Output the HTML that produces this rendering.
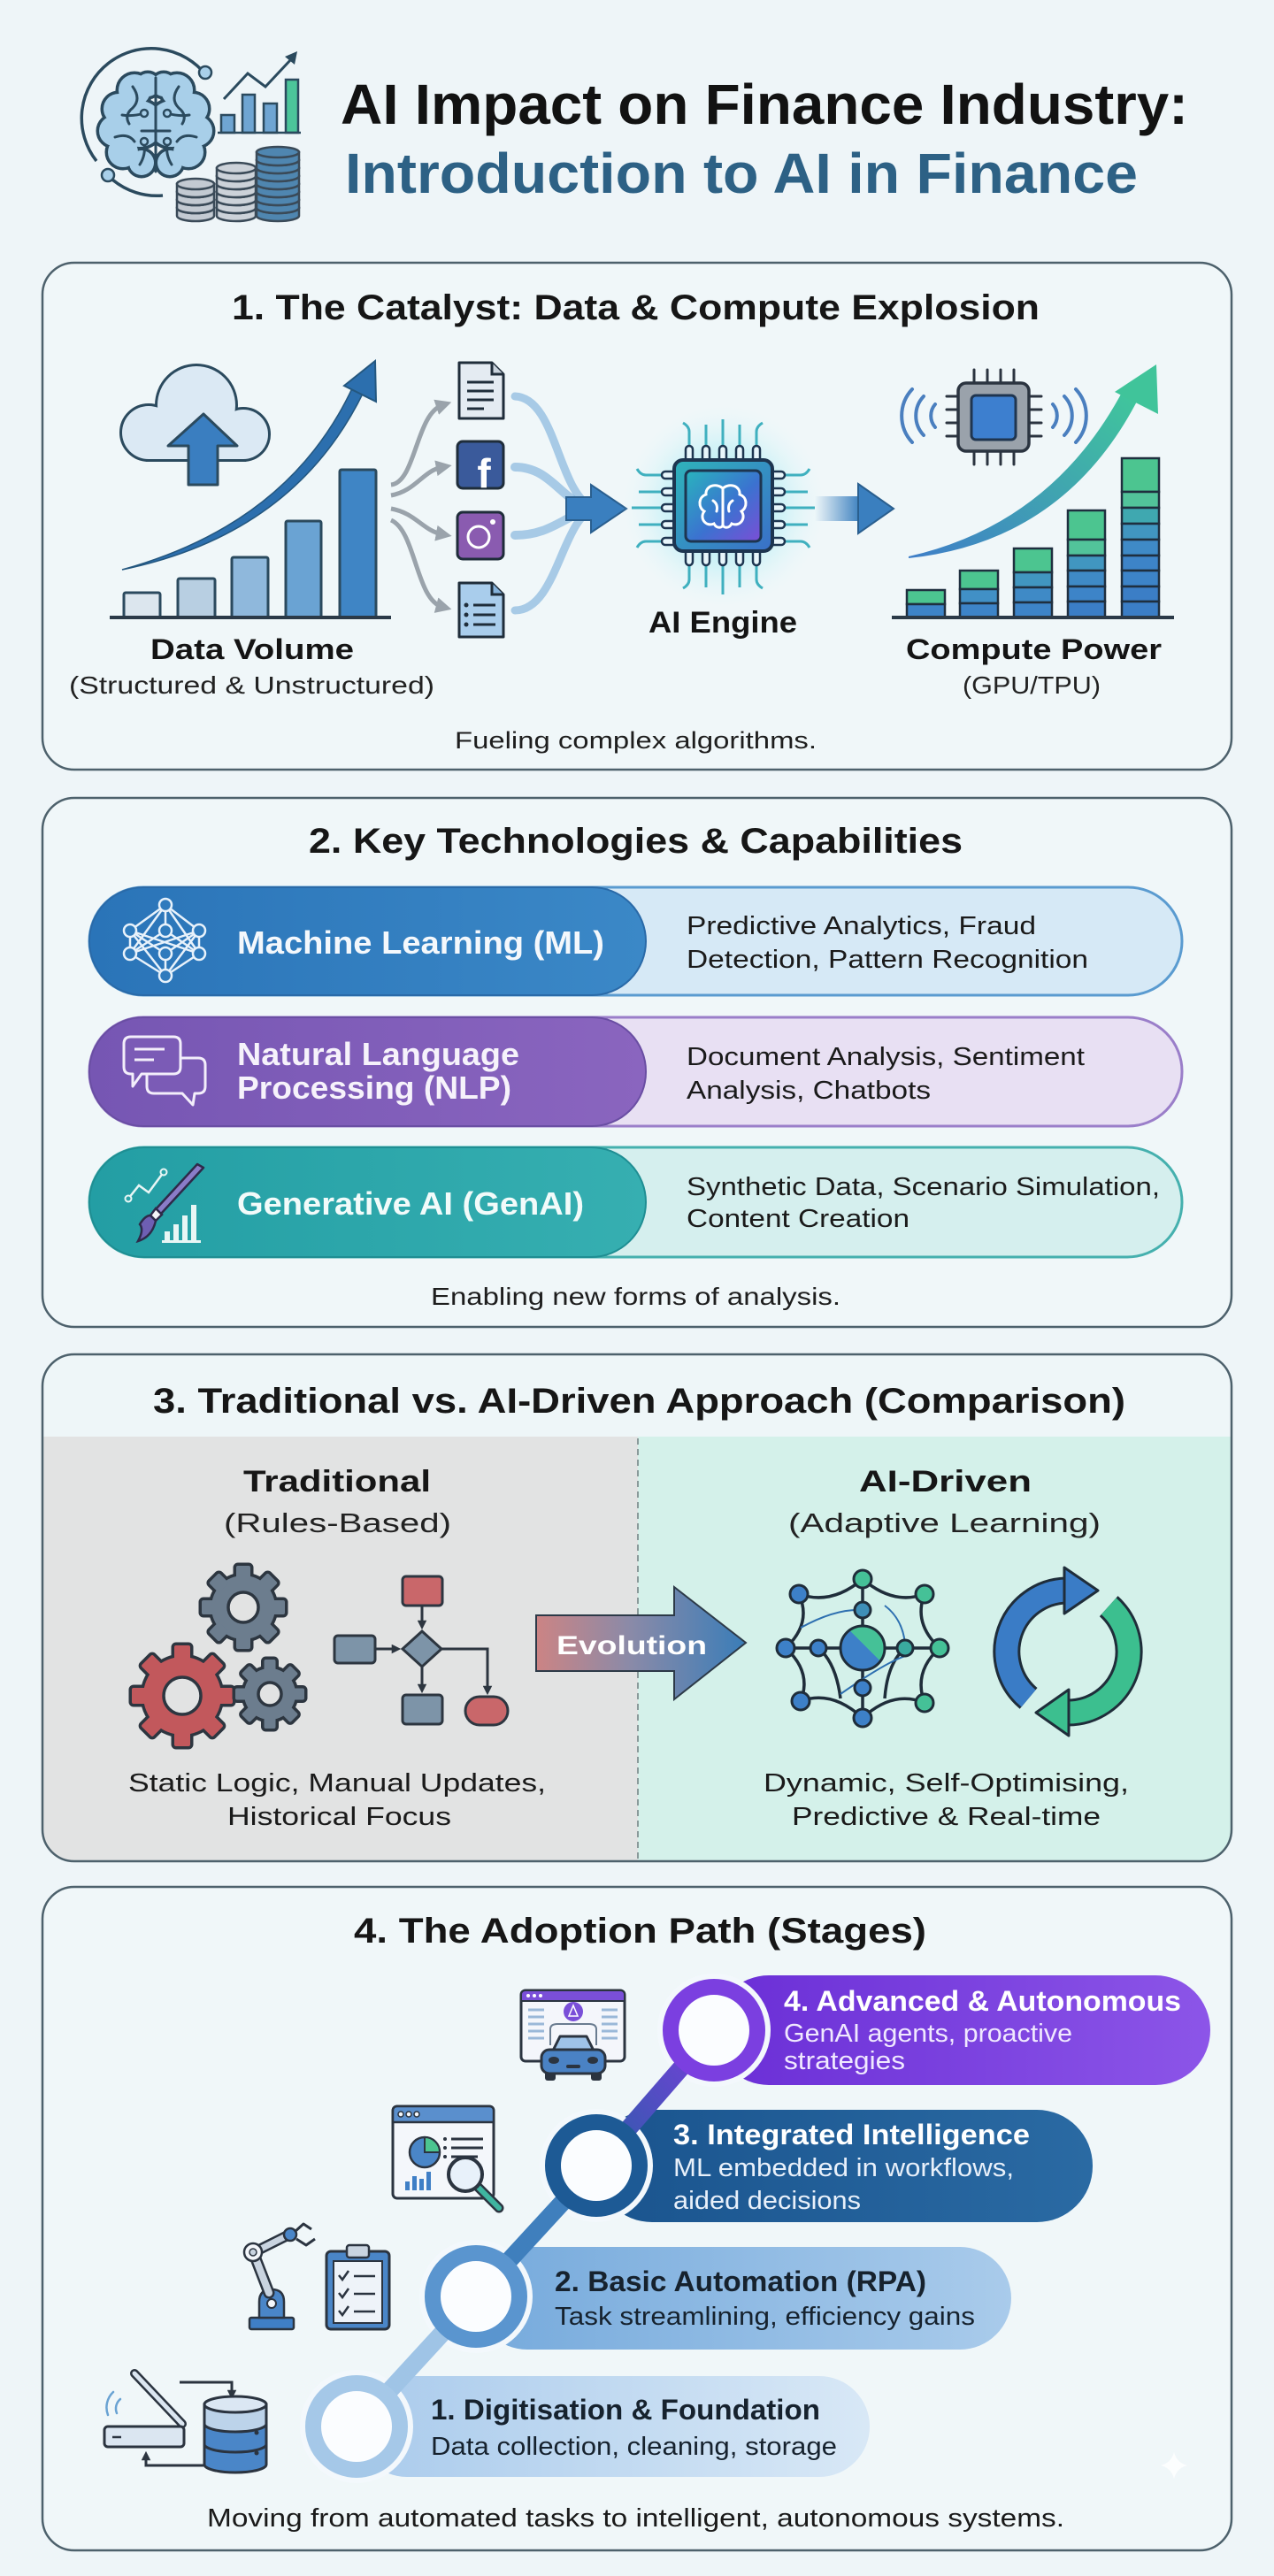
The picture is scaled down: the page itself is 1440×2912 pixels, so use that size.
<!DOCTYPE html>
<html><head><meta charset="utf-8"><style>
html,body{margin:0;padding:0;background:#eef5f8;}
svg{display:block;}
text{font-family:"Liberation Sans",Arial,sans-serif;}
</style></head><body>
<svg width="1440" height="2912" viewBox="0 0 1440 2912" xmlns="http://www.w3.org/2000/svg">
<defs>
<linearGradient id="chipBody" x1="0" y1="0" x2="1" y2="1"><stop offset="0" stop-color="#2fb3bb"/><stop offset="1" stop-color="#3a6fc8"/></linearGradient>
<linearGradient id="chipScreen" x1="0" y1="0" x2="1" y2="1"><stop offset="0" stop-color="#29b4bd"/><stop offset="0.55" stop-color="#3b72d0"/><stop offset="1" stop-color="#7b4ed6"/></linearGradient>
<radialGradient id="glow" cx="0.5" cy="0.5" r="0.5"><stop offset="0" stop-color="#8fe6f0" stop-opacity="0.95"/><stop offset="0.6" stop-color="#bff0f6" stop-opacity="0.6"/><stop offset="1" stop-color="#e6f7fa" stop-opacity="0"/></radialGradient>
<linearGradient id="rArrow" x1="0" y1="0" x2="1" y2="0"><stop offset="0" stop-color="#3a7fbf" stop-opacity="0"/><stop offset="1" stop-color="#3a7fbf"/></linearGradient>
<linearGradient id="cArrow" x1="0" y1="1" x2="1" y2="0"><stop offset="0" stop-color="#3f7ec8"/><stop offset="1" stop-color="#40c89a"/></linearGradient>
<linearGradient id="mlDark" x1="0" y1="0" x2="1" y2="0"><stop offset="0" stop-color="#2a74b8"/><stop offset="1" stop-color="#3b88c7"/></linearGradient>
<linearGradient id="nlpDark" x1="0" y1="0" x2="1" y2="0"><stop offset="0" stop-color="#7656b3"/><stop offset="1" stop-color="#8a65bf"/></linearGradient>
<linearGradient id="genDark" x1="0" y1="0" x2="1" y2="0"><stop offset="0" stop-color="#239ea4"/><stop offset="1" stop-color="#36afb1"/></linearGradient>
<linearGradient id="evo" x1="0" y1="0" x2="1" y2="0"><stop offset="0" stop-color="#cc8484"/><stop offset="0.45" stop-color="#8a8aa8"/><stop offset="1" stop-color="#3a7db8"/></linearGradient>
<linearGradient id="split" x1="0" y1="1" x2="1" y2="0"><stop offset="0" stop-color="#3d80c8"/><stop offset="0.55" stop-color="#3d80c8"/><stop offset="0.55" stop-color="#45c197"/><stop offset="1" stop-color="#45c197"/></linearGradient>
<linearGradient id="p1" x1="0" y1="0" x2="1" y2="0"><stop offset="0" stop-color="#aacbec"/><stop offset="1" stop-color="#d8e8f6"/></linearGradient>
<linearGradient id="p2" x1="0" y1="0" x2="1" y2="0"><stop offset="0" stop-color="#76aadc"/><stop offset="1" stop-color="#a9cbeb"/></linearGradient>
<linearGradient id="p3" x1="0" y1="0" x2="1" y2="0"><stop offset="0" stop-color="#1a548e"/><stop offset="1" stop-color="#2a6aa3"/></linearGradient>
<linearGradient id="p4" x1="0" y1="0" x2="1" y2="0"><stop offset="0" stop-color="#6a2ed6"/><stop offset="1" stop-color="#8c55e8"/></linearGradient>
<linearGradient id="c34" x1="0" y1="1" x2="1" y2="0"><stop offset="0" stop-color="#2a5ea8"/><stop offset="1" stop-color="#7a3ddc"/></linearGradient>
<clipPath id="box3"><rect x="48" y="1531" width="1344" height="573" rx="36"/></clipPath>
<marker id="mg" viewBox="0 0 10 10" refX="4" refY="5" markerWidth="3.6" markerHeight="3.6" orient="auto"><path d="M0,0 L10,5 L0,10 z" fill="#9aa3ab"/></marker>
<marker id="md" viewBox="0 0 10 10" refX="6" refY="5" markerWidth="3.5" markerHeight="3.5" orient="auto"><path d="M0,0 L10,5 L0,10 z" fill="#2d3640"/></marker>
<g id="brainH">
<circle cx="152" cy="102" r="18"/><circle cx="134" cy="123" r="17"/><circle cx="129" cy="148" r="17"/><circle cx="139" cy="172" r="17"/><circle cx="160" cy="184" r="14"/><circle cx="158" cy="140" r="26"/><circle cx="167" cy="96" r="13"/>
<circle cx="200" cy="102" r="18"/><circle cx="218" cy="123" r="17"/><circle cx="223" cy="148" r="17"/><circle cx="213" cy="172" r="17"/><circle cx="192" cy="184" r="14"/><circle cx="194" cy="140" r="26"/><circle cx="185" cy="96" r="13"/>
</g>
<g id="cloud"><circle cx="168" cy="489" r="30"/><circle cx="222" cy="458" r="44"/><circle cx="275" cy="491" r="28"/><rect x="168" y="470" width="107" height="49"/></g>
<g id="gA"><circle cx="275" cy="1817" r="36"/>
<rect x="267" y="1770" width="16" height="16" rx="2"/><rect x="267" y="1770" width="16" height="16" rx="2" transform="rotate(45 275 1817)"/><rect x="267" y="1770" width="16" height="16" rx="2" transform="rotate(90 275 1817)"/><rect x="267" y="1770" width="16" height="16" rx="2" transform="rotate(135 275 1817)"/><rect x="267" y="1770" width="16" height="16" rx="2" transform="rotate(180 275 1817)"/><rect x="267" y="1770" width="16" height="16" rx="2" transform="rotate(225 275 1817)"/><rect x="267" y="1770" width="16" height="16" rx="2" transform="rotate(270 275 1817)"/><rect x="267" y="1770" width="16" height="16" rx="2" transform="rotate(315 275 1817)"/></g>
<g id="gB"><circle cx="206" cy="1917" r="44"/>
<rect x="197" y="1860" width="18" height="18" rx="2"/><rect x="197" y="1860" width="18" height="18" rx="2" transform="rotate(45 206 1917)"/><rect x="197" y="1860" width="18" height="18" rx="2" transform="rotate(90 206 1917)"/><rect x="197" y="1860" width="18" height="18" rx="2" transform="rotate(135 206 1917)"/><rect x="197" y="1860" width="18" height="18" rx="2" transform="rotate(180 206 1917)"/><rect x="197" y="1860" width="18" height="18" rx="2" transform="rotate(225 206 1917)"/><rect x="197" y="1860" width="18" height="18" rx="2" transform="rotate(270 206 1917)"/><rect x="197" y="1860" width="18" height="18" rx="2" transform="rotate(315 206 1917)"/></g>
<g id="gC"><circle cx="305" cy="1915" r="29"/>
<rect x="298.5" y="1876" width="13" height="13" rx="2"/><rect x="298.5" y="1876" width="13" height="13" rx="2" transform="rotate(45 305 1915)"/><rect x="298.5" y="1876" width="13" height="13" rx="2" transform="rotate(90 305 1915)"/><rect x="298.5" y="1876" width="13" height="13" rx="2" transform="rotate(135 305 1915)"/><rect x="298.5" y="1876" width="13" height="13" rx="2" transform="rotate(180 305 1915)"/><rect x="298.5" y="1876" width="13" height="13" rx="2" transform="rotate(225 305 1915)"/><rect x="298.5" y="1876" width="13" height="13" rx="2" transform="rotate(270 305 1915)"/><rect x="298.5" y="1876" width="13" height="13" rx="2" transform="rotate(315 305 1915)"/></g>
</defs>

<rect width="1440" height="2912" fill="#eef5f8"/>

<!-- ===== HEADER ===== -->
<path d="M233,85 A78,78 0 0 0 109,182" fill="none" stroke="#2b4a5e" stroke-width="3.5"/>
<path d="M127,203 A78,78 0 0 0 184,221" fill="none" stroke="#2b4a5e" stroke-width="3.5"/>
<circle cx="232" cy="82" r="7" fill="#a9d0ea" stroke="#2b4a5e" stroke-width="2.5"/>
<circle cx="122" cy="198" r="7" fill="#a9d0ea" stroke="#2b4a5e" stroke-width="2.5"/>
<use href="#brainH" fill="#2b4a5e" stroke="#2b4a5e" stroke-width="7"/>
<use href="#brainH" fill="#a8cfe9"/>
<g fill="none" stroke="#2b4a5e" stroke-width="3" stroke-linecap="round">
<path d="M176,88 V194"/>
<path d="M150,98 Q160,112 150,122 Q140,130 146,140"/><path d="M202,98 Q192,112 202,122 Q212,130 206,140"/>
<path d="M163,128 Q150,132 138,130"/><path d="M189,128 Q202,132 214,130"/>
<path d="M163,162 Q165,175 158,186"/><path d="M189,162 Q187,175 194,186"/>
<path d="M130,155 Q145,150 152,160"/><path d="M222,155 Q207,150 200,160"/>
<path d="M160,148 H192"/>
</g>
<g fill="#a8cfe9" stroke="#2b4a5e" stroke-width="2.5"><circle cx="163" cy="128" r="4"/><circle cx="189" cy="128" r="4"/><circle cx="163" cy="160" r="4"/><circle cx="189" cy="160" r="4"/></g>
<g stroke="#2b4a5e" stroke-width="2.5">
<rect x="250" y="130" width="15" height="20" fill="#6fa5d2"/><rect x="274" y="107" width="14" height="43" fill="#6fa5d2"/><rect x="298" y="117" width="15" height="33" fill="#6fa5d2"/><rect x="323" y="90" width="14" height="60" fill="#4cc59a"/>
<line x1="246" y1="150" x2="340" y2="150"/>
</g>
<path d="M253,112 L280,83 L300,98 L330,66" fill="none" stroke="#2b4a5e" stroke-width="3"/>
<path d="M336,58 L322,64 L333,73 Z" fill="#2b4a5e"/>
<!-- coins -->
<g stroke="#3a4a58" stroke-width="2.5">
<g fill="#c3cad2">
<path d="M200,235 v9 a21,6 0 0 0 42,0 v-9 z"/><ellipse cx="221" cy="235" rx="21" ry="6"/>
<path d="M200,226 v9 a21,6 0 0 0 42,0 v-9 z"/><ellipse cx="221" cy="226" rx="21" ry="6"/>
<path d="M200,217 v9 a21,6 0 0 0 42,0 v-9 z"/><ellipse cx="221" cy="217" rx="21" ry="6"/>
<path d="M200,208 v9 a21,6 0 0 0 42,0 v-9 z"/><ellipse cx="221" cy="208" rx="21" ry="6"/>
</g>
<g fill="#ccd2d9">
<path d="M245,235 v9 a22,6 0 0 0 44,0 v-9 z"/><ellipse cx="267" cy="235" rx="22" ry="6"/>
<path d="M245,226 v9 a22,6 0 0 0 44,0 v-9 z"/><ellipse cx="267" cy="226" rx="22" ry="6"/>
<path d="M245,217 v9 a22,6 0 0 0 44,0 v-9 z"/><ellipse cx="267" cy="217" rx="22" ry="6"/>
<path d="M245,208 v9 a22,6 0 0 0 44,0 v-9 z"/><ellipse cx="267" cy="208" rx="22" ry="6"/>
<path d="M245,199 v9 a22,6 0 0 0 44,0 v-9 z"/><ellipse cx="267" cy="199" rx="22" ry="6"/>
<path d="M245,190 v9 a22,6 0 0 0 44,0 v-9 z"/><ellipse cx="267" cy="190" rx="22" ry="6"/>
</g>
<g fill="#4f86b0">
<path d="M290,235 v9 a24,6 0 0 0 48,0 v-9 z"/><ellipse cx="314" cy="235" rx="24" ry="6"/>
<path d="M290,226 v9 a24,6 0 0 0 48,0 v-9 z"/><ellipse cx="314" cy="226" rx="24" ry="6"/>
<path d="M290,217 v9 a24,6 0 0 0 48,0 v-9 z"/><ellipse cx="314" cy="217" rx="24" ry="6"/>
<path d="M290,208 v9 a24,6 0 0 0 48,0 v-9 z"/><ellipse cx="314" cy="208" rx="24" ry="6"/>
<path d="M290,199 v9 a24,6 0 0 0 48,0 v-9 z"/><ellipse cx="314" cy="199" rx="24" ry="6"/>
<path d="M290,190 v9 a24,6 0 0 0 48,0 v-9 z"/><ellipse cx="314" cy="190" rx="24" ry="6"/>
<path d="M290,181 v9 a24,6 0 0 0 48,0 v-9 z"/><ellipse cx="314" cy="181" rx="24" ry="6"/>
<path d="M290,172 v9 a24,6 0 0 0 48,0 v-9 z"/><ellipse cx="314" cy="172" rx="24" ry="6"/>
</g>
</g>
<text x="385" y="140" font-size="64" font-weight="bold" fill="#121212" textLength="958" lengthAdjust="spacingAndGlyphs">AI Impact on Finance Industry:</text>
<text x="390" y="218" font-size="64" font-weight="bold" fill="#2d6185" textLength="896" lengthAdjust="spacingAndGlyphs">Introduction to AI in Finance</text>

<!-- ===== BOX 1 ===== -->
<rect x="48" y="297" width="1344" height="573" rx="36" fill="#f0f7f9" stroke="#4d616c" stroke-width="2.5"/>
<text x="262" y="361" font-size="40" font-weight="bold" fill="#161616" textLength="913" lengthAdjust="spacingAndGlyphs">1. The Catalyst: Data &amp; Compute Explosion</text>
<!-- cloud -->
<use href="#cloud" fill="#2b4a5e" stroke="#2b4a5e" stroke-width="6"/>
<use href="#cloud" fill="#dbe9f4"/>
<path d="M213,548 V504 H190 L230,468 L268,504 H246 V548 Z" fill="#3a7ec0" stroke="#2b4a5e" stroke-width="3" stroke-linejoin="round"/>
<!-- bars -->
<g stroke="#2b4a5e" stroke-width="3">
<rect x="140" y="670" width="41" height="28" rx="2" fill="#dce6ee"/>
<rect x="201" y="654" width="42" height="44" rx="2" fill="#b8cfe2"/>
<rect x="262" y="630" width="41" height="68" rx="2" fill="#8fb8dc"/>
<rect x="323" y="589" width="40" height="109" rx="2" fill="#6aa3d3"/>
<rect x="384" y="531" width="41" height="167" rx="2" fill="#3f85c5"/>
</g>
<line x1="124" y1="698" x2="442" y2="698" stroke="#2b3a48" stroke-width="4"/>
<path d="M138,644 Q333,604 411,443 L399,437 Q327,592 138,644 Z" fill="#2c6fae" stroke="#24577f" stroke-width="1.5"/>
<path d="M424,408 L425,454 L389,436 Z" fill="#2c6fae" stroke="#24577f" stroke-width="2"/>
<!-- gray arrows -->
<g fill="none" stroke="#9aa3ab" stroke-width="5" marker-end="url(#mg)">
<path d="M442,548 C470,545 470,468 500,458"/>
<path d="M442,560 C470,555 478,532 500,528"/>
<path d="M442,575 C470,580 478,600 500,604"/>
<path d="M442,588 C470,600 470,678 500,686"/>
</g>
<!-- source icons -->
<g stroke="#1f2d3a" stroke-width="3">
<path d="M519,410 H556 L569,423 V473 H519 Z" fill="#e4ebf2" stroke-linejoin="round"/>
<path d="M556,410 V423 H569" fill="#c9d3dd"/>
<line x1="528" y1="432" x2="558" y2="432"/><line x1="528" y1="442" x2="558" y2="442"/><line x1="528" y1="452" x2="558" y2="452"/><line x1="528" y1="462" x2="547" y2="462"/>
<rect x="517" y="499" width="52" height="53" rx="6" fill="#3a5a9b"/>
<rect x="517" y="579" width="52" height="53" rx="6" fill="#8a5bb0"/>
<path d="M519,659 H556 L569,672 V720 H519 Z" fill="#a9cdec" stroke-linejoin="round"/>
<path d="M556,659 V672 H569" fill="#86b3dc"/>
<line x1="535" y1="684" x2="560" y2="684"/><line x1="535" y1="695" x2="560" y2="695"/><line x1="535" y1="706" x2="560" y2="706"/>
</g>
<g fill="#1f2d3a"><circle cx="527" cy="684" r="2.5"/><circle cx="527" cy="695" r="2.5"/><circle cx="527" cy="706" r="2.5"/></g>
<text x="547" y="551" font-size="46" font-weight="bold" fill="#ffffff" text-anchor="middle">f</text>
<circle cx="541" cy="607" r="12" fill="none" stroke="#ffffff" stroke-width="3"/>
<circle cx="557" cy="590" r="3" fill="#ffffff"/>
<!-- flow curves -->
<g fill="none" stroke="#7fb2dc" stroke-opacity="0.65" stroke-linecap="round">
<path d="M582,448 C630,450 630,560 672,575" stroke-width="9"/>
<path d="M582,528 C625,528 635,570 672,575" stroke-width="10"/>
<path d="M582,605 C625,605 640,580 672,575" stroke-width="10"/>
<path d="M582,690 C630,690 635,585 672,575" stroke-width="9"/>
</g>
<path d="M640,562 H668 V548 L708,575 L668,602 V588 H640 Z" fill="#3a7fbf" stroke="#2a5f8f" stroke-width="2"/>
<!-- AI chip -->
<circle cx="818" cy="572" r="115" fill="url(#glow)"/>
<g fill="none" stroke="#3fb0bf" stroke-width="3">
<path d="M779,505 V488 Q779,482 772,478"/><path d="M798,505 V480"/><path d="M817,505 V474"/><path d="M836,505 V480"/><path d="M855,505 V488 Q855,482 862,478"/>
<path d="M779,638 V655 Q779,661 772,665"/><path d="M798,638 V664"/><path d="M817,638 V672"/><path d="M836,638 V664"/><path d="M855,638 V655 Q855,661 862,665"/>
<path d="M750,537 H730 Q724,537 720,530"/><path d="M750,556 H722"/><path d="M750,574 H714"/><path d="M750,593 H722"/><path d="M750,612 H730 Q724,612 720,619"/>
<path d="M885,537 H905 Q911,537 915,530"/><path d="M885,556 H913"/><path d="M885,574 H921"/><path d="M885,593 H913"/><path d="M885,612 H905 Q911,612 915,619"/>
</g>
<g fill="#e8f6fb" stroke="#1d3550" stroke-width="2.5">
<rect x="775" y="504" width="8" height="18" rx="4"/><rect x="794" y="504" width="8" height="18" rx="4"/><rect x="813" y="504" width="8" height="18" rx="4"/><rect x="832" y="504" width="8" height="18" rx="4"/><rect x="851" y="504" width="8" height="18" rx="4"/>
<rect x="775" y="621" width="8" height="18" rx="4"/><rect x="794" y="621" width="8" height="18" rx="4"/><rect x="813" y="621" width="8" height="18" rx="4"/><rect x="832" y="621" width="8" height="18" rx="4"/><rect x="851" y="621" width="8" height="18" rx="4"/>
<rect x="748" y="533" width="18" height="8" rx="4"/><rect x="748" y="552" width="18" height="8" rx="4"/><rect x="748" y="570" width="18" height="8" rx="4"/><rect x="748" y="589" width="18" height="8" rx="4"/><rect x="748" y="608" width="18" height="8" rx="4"/>
<rect x="869" y="533" width="18" height="8" rx="4"/><rect x="869" y="552" width="18" height="8" rx="4"/><rect x="869" y="570" width="18" height="8" rx="4"/><rect x="869" y="589" width="18" height="8" rx="4"/><rect x="869" y="608" width="18" height="8" rx="4"/>
</g>
<rect x="762" y="520" width="111" height="103" rx="10" fill="url(#chipBody)" stroke="#1d3550" stroke-width="4"/>
<rect x="775" y="532" width="85" height="80" rx="6" fill="url(#chipScreen)" stroke="#1d3550" stroke-width="3"/>
<g fill="none" stroke="#ffffff" stroke-width="3" stroke-linecap="round">
<path d="M817,552 C808,545 797,550 798,559 C789,562 789,574 796,578 C790,586 798,596 807,592 C810,598 817,597 817,593 Z"/>
<path d="M817,552 C826,545 837,550 836,559 C845,562 845,574 838,578 C844,586 836,596 827,592 C824,598 817,597 817,593 Z"/>
<path d="M806,566 Q812,570 810,578"/><path d="M828,566 Q822,570 824,578"/>
</g>
<text x="733" y="715" font-size="34" font-weight="bold" fill="#141414" textLength="168" lengthAdjust="spacingAndGlyphs">AI Engine</text>
<!-- right arrow -->
<rect x="921" y="561" width="52" height="28" fill="url(#rArrow)"/>
<path d="M970,547 L1010,575 L970,603 Z" fill="#3a7fbf" stroke="#2a5f8f" stroke-width="2"/>
<!-- compute chip -->
<g stroke="#2b3440" stroke-width="3" stroke-linecap="round">
<line x1="1101" y1="418" x2="1101" y2="433"/><line x1="1116" y1="418" x2="1116" y2="433"/><line x1="1131" y1="418" x2="1131" y2="433"/><line x1="1146" y1="418" x2="1146" y2="433"/>
<line x1="1101" y1="510" x2="1101" y2="525"/><line x1="1116" y1="510" x2="1116" y2="525"/><line x1="1131" y1="510" x2="1131" y2="525"/><line x1="1146" y1="510" x2="1146" y2="525"/>
<line x1="1070" y1="448" x2="1083" y2="448"/><line x1="1070" y1="463" x2="1083" y2="463"/><line x1="1070" y1="478" x2="1083" y2="478"/><line x1="1070" y1="493" x2="1083" y2="493"/>
<line x1="1163" y1="448" x2="1177" y2="448"/><line x1="1163" y1="463" x2="1177" y2="463"/><line x1="1163" y1="478" x2="1177" y2="478"/><line x1="1163" y1="493" x2="1177" y2="493"/>
</g>
<rect x="1083" y="433" width="80" height="77" rx="9" fill="#9aa2ab" stroke="#2b3440" stroke-width="3.5"/>
<rect x="1098" y="447" width="50" height="50" rx="5" fill="#3d7fcf" stroke="#1f3550" stroke-width="3"/>
<g fill="none" stroke="#4a7fbf" stroke-width="4" stroke-linecap="round">
<path d="M1057,457 A20,20 0 0 0 1057,483"/><path d="M1044,448 A32,32 0 0 0 1044,492"/><path d="M1031,440 A44,44 0 0 0 1031,500"/>
<path d="M1190,457 A20,20 0 0 1 1190,483"/><path d="M1203,448 A32,32 0 0 1 1203,492"/><path d="M1216,440 A44,44 0 0 1 1216,500"/>
</g>
<path d="M1027,631 Q1205,612 1288,448 L1270,440 Q1190,592 1027,629 Z" fill="url(#cArrow)"/>
<path d="M1307,412 L1260,443 L1309,468 Z" fill="#40c49a"/>
<!-- stacked bars -->
<g stroke="#1f2f3f" stroke-width="2.5">
<rect x="1025" y="667" width="43" height="16" fill="#4cc590"/><rect x="1025" y="683" width="43" height="15" fill="#3d84c8"/>
<rect x="1085" y="645" width="43" height="21" fill="#4cc590"/><rect x="1085" y="666" width="43" height="16" fill="#4190c6"/><rect x="1085" y="682" width="43" height="16" fill="#3d84c8"/>
<rect x="1146" y="620" width="43" height="27" fill="#4cc590"/><rect x="1146" y="647" width="43" height="17" fill="#4196c0"/><rect x="1146" y="664" width="43" height="17" fill="#3f8ac6"/><rect x="1146" y="681" width="43" height="17" fill="#3d84c8"/>
<rect x="1207" y="577" width="42" height="33" fill="#4cc590"/><rect x="1207" y="610" width="42" height="18" fill="#52c39a"/><rect x="1207" y="628" width="42" height="17" fill="#4196c0"/><rect x="1207" y="645" width="42" height="18" fill="#3f8ac6"/><rect x="1207" y="663" width="42" height="17" fill="#3d84c8"/><rect x="1207" y="680" width="42" height="18" fill="#3b7ec6"/>
<rect x="1268" y="518" width="42" height="38" fill="#4cc590"/><rect x="1268" y="556" width="42" height="18" fill="#52c39a"/><rect x="1268" y="574" width="42" height="18" fill="#3fa8b0"/><rect x="1268" y="592" width="42" height="18" fill="#4196c0"/><rect x="1268" y="610" width="42" height="18" fill="#3f8ac6"/><rect x="1268" y="628" width="42" height="17" fill="#3d84c8"/><rect x="1268" y="645" width="42" height="18" fill="#3d84c8"/><rect x="1268" y="663" width="42" height="17" fill="#3b7ec6"/><rect x="1268" y="680" width="42" height="18" fill="#3b7ec6"/>
</g>
<line x1="1008" y1="698" x2="1327" y2="698" stroke="#2b3a48" stroke-width="4"/>
<text x="170" y="745" font-size="32" font-weight="bold" fill="#141414" textLength="230" lengthAdjust="spacingAndGlyphs">Data Volume</text>
<text x="78" y="784" font-size="28" fill="#222" textLength="413" lengthAdjust="spacingAndGlyphs">(Structured &amp; Unstructured)</text>
<text x="1024" y="745" font-size="32" font-weight="bold" fill="#141414" textLength="289" lengthAdjust="spacingAndGlyphs">Compute Power</text>
<text x="1088" y="784" font-size="28" fill="#222" textLength="156" lengthAdjust="spacingAndGlyphs">(GPU/TPU)</text>
<text x="514" y="846" font-size="27" fill="#1e1e1e" textLength="409" lengthAdjust="spacingAndGlyphs">Fueling complex algorithms.</text>

<!-- ===== BOX 2 ===== -->
<rect x="48" y="902" width="1344" height="598" rx="36" fill="#f0f7f9" stroke="#4d616c" stroke-width="2.5"/>
<text x="349" y="964" font-size="40" font-weight="bold" fill="#161616" textLength="739" lengthAdjust="spacingAndGlyphs">2. Key Technologies &amp; Capabilities</text>
<rect x="101" y="1003" width="1235" height="122" rx="61" fill="#d6e9f6" stroke="#5a9bd0" stroke-width="3"/>
<rect x="101" y="1003" width="629" height="122" rx="61" fill="url(#mlDark)" stroke="#2a6aa8" stroke-width="2"/>
<rect x="101" y="1150" width="1235" height="123" rx="61" fill="#e8e0f3" stroke="#9a7ec9" stroke-width="3"/>
<rect x="101" y="1150" width="629" height="123" rx="61" fill="url(#nlpDark)" stroke="#6a4ea3" stroke-width="2"/>
<rect x="101" y="1297" width="1235" height="124" rx="62" fill="#d5efee" stroke="#45b0ae" stroke-width="3"/>
<rect x="101" y="1297" width="629" height="124" rx="62" fill="url(#genDark)" stroke="#1f8e93" stroke-width="2"/>
<!-- ML icon -->
<g stroke="#e8f2fb" stroke-width="2.5" fill="none">
<path d="M187,1023 L147,1052 M187,1023 L187,1052 M187,1023 L225,1052 M147,1052 L147,1078 M147,1052 L187,1078 M147,1052 L225,1078 M187,1052 L147,1078 M187,1052 L225,1078 M225,1052 L147,1078 M225,1052 L187,1078 M225,1052 L225,1078 M147,1078 L187,1103 M187,1078 L187,1103 M225,1078 L187,1103 M187,1023 L147,1078 M187,1023 L225,1078 M147,1052 L187,1103 M225,1052 L187,1103"/>
</g>
<g fill="#2f7bbd" stroke="#e8f2fb" stroke-width="2.5">
<circle cx="187" cy="1023" r="7"/><circle cx="147" cy="1052" r="7"/><circle cx="187" cy="1052" r="7"/><circle cx="225" cy="1052" r="7"/><circle cx="147" cy="1078" r="7"/><circle cx="187" cy="1078" r="7"/><circle cx="225" cy="1078" r="7"/><circle cx="187" cy="1103" r="7"/>
</g>
<!-- NLP icon -->
<g stroke="#f3eefb" stroke-width="3" fill="#7b5bb6" stroke-linejoin="round">
<path d="M174,1196 H224 Q232,1196 232,1204 V1228 Q232,1236 224,1236 H220 L218,1249 L206,1236 H174 Q166,1236 166,1228 V1204 Q166,1196 174,1196 Z"/>
<path d="M148,1172 H196 Q204,1172 204,1180 V1206 Q204,1214 196,1214 H160 L150,1228 L150,1214 H148 Q140,1214 140,1206 V1180 Q140,1172 148,1172 Z"/>
<line x1="152" y1="1186" x2="186" y2="1186"/><line x1="152" y1="1198" x2="174" y2="1198"/>
</g>
<!-- GenAI icon -->
<g fill="none" stroke="#e8f6f5" stroke-width="2.5">
<path d="M145,1355 L157,1340 L168,1348 L185,1325"/>
</g>
<g fill="#2aa3a8" stroke="#e8f6f5" stroke-width="2"><circle cx="145" cy="1355" r="3.5"/><circle cx="185" cy="1325" r="3.5"/></g>
<g fill="#e8f6f5"><rect x="186" y="1392" width="6" height="12"/><rect x="196" y="1384" width="6" height="20"/><rect x="206" y="1374" width="6" height="30"/><rect x="216" y="1362" width="6" height="42"/><rect x="183" y="1402" width="44" height="3"/></g>
<path d="M223,1316 L230,1320 L182,1372 L176,1367 Z" fill="#8a7cc8" stroke="#2e2a4a" stroke-width="2.5" stroke-linejoin="round"/>
<path d="M176,1366 L183,1373 L176,1380 L170,1374 Z" fill="#f4f4f8" stroke="#2e2a4a" stroke-width="2.5"/>
<path d="M170,1374 L176,1380 Q172,1398 156,1403 Q163,1390 158,1384 Q164,1374 170,1374 Z" fill="#6e5fb3" stroke="#2e2a4a" stroke-width="2.5"/>
<text x="268" y="1078" font-size="36" font-weight="bold" fill="#f4f8fc" textLength="415" lengthAdjust="spacingAndGlyphs">Machine Learning (ML)</text>
<text x="268" y="1204" font-size="36" font-weight="bold" fill="#f6f2fb" textLength="319" lengthAdjust="spacingAndGlyphs">Natural Language</text>
<text x="268" y="1242" font-size="36" font-weight="bold" fill="#f6f2fb" textLength="310" lengthAdjust="spacingAndGlyphs">Processing (NLP)</text>
<text x="268" y="1373" font-size="36" font-weight="bold" fill="#f2fbfa" textLength="392" lengthAdjust="spacingAndGlyphs">Generative AI (GenAI)</text>
<g font-size="29" fill="#1a1a1a">
<text x="776" y="1056" textLength="395" lengthAdjust="spacingAndGlyphs">Predictive Analytics, Fraud</text>
<text x="776" y="1094" textLength="454" lengthAdjust="spacingAndGlyphs">Detection, Pattern Recognition</text>
<text x="776" y="1204" textLength="450" lengthAdjust="spacingAndGlyphs">Document Analysis, Sentiment</text>
<text x="776" y="1242" textLength="276" lengthAdjust="spacingAndGlyphs">Analysis, Chatbots</text>
<text x="776" y="1351" textLength="535" lengthAdjust="spacingAndGlyphs">Synthetic Data, Scenario Simulation,</text>
<text x="776" y="1387" textLength="252" lengthAdjust="spacingAndGlyphs">Content Creation</text>
</g>
<text x="487" y="1475" font-size="28" fill="#1e1e1e" textLength="463" lengthAdjust="spacingAndGlyphs">Enabling new forms of analysis.</text>

<!-- ===== BOX 3 ===== -->
<rect x="48" y="1531" width="1344" height="573" rx="36" fill="#eef6f8"/>
<g clip-path="url(#box3)">
<rect x="48" y="1624" width="673" height="480" fill="#e2e3e3"/>
<rect x="721" y="1624" width="671" height="480" fill="#d4f1ea"/>
</g>
<line x1="721" y1="1626" x2="721" y2="2102" stroke="#8a9a9a" stroke-width="2" stroke-dasharray="7,5"/>
<rect x="48" y="1531" width="1344" height="573" rx="36" fill="none" stroke="#4d616c" stroke-width="2.5"/>
<text x="173" y="1597" font-size="40" font-weight="bold" fill="#161616" textLength="1099" lengthAdjust="spacingAndGlyphs">3. Traditional vs. AI-Driven Approach (Comparison)</text>
<text x="275" y="1686" font-size="34" font-weight="bold" fill="#161616" textLength="212" lengthAdjust="spacingAndGlyphs">Traditional</text>
<text x="253" y="1732" font-size="31" fill="#222" textLength="257" lengthAdjust="spacingAndGlyphs">(Rules-Based)</text>
<text x="971" y="1686" font-size="34" font-weight="bold" fill="#161616" textLength="195" lengthAdjust="spacingAndGlyphs">AI-Driven</text>
<text x="891" y="1732" font-size="31" fill="#222" textLength="353" lengthAdjust="spacingAndGlyphs">(Adaptive Learning)</text>
<!-- gears -->
<use href="#gA" fill="#2d3640" stroke="#2d3640" stroke-width="7"/>
<use href="#gA" fill="#6c7d8e"/>
<circle cx="275" cy="1817" r="17" fill="#e2e3e3" stroke="#2d3640" stroke-width="3.5"/>
<use href="#gB" fill="#2d3640" stroke="#2d3640" stroke-width="7"/>
<use href="#gB" fill="#c2585c"/>
<circle cx="206" cy="1917" r="21" fill="#e2e3e3" stroke="#2d3640" stroke-width="3.5"/>
<use href="#gC" fill="#2d3640" stroke="#2d3640" stroke-width="7"/>
<use href="#gC" fill="#6c7d8e"/>
<circle cx="305" cy="1915" r="13" fill="#e2e3e3" stroke="#2d3640" stroke-width="3.5"/>
<!-- flowchart -->
<g stroke="#2d3640" stroke-width="3" fill="none">
<line x1="477" y1="1815" x2="477" y2="1838" marker-end="url(#md)"/>
<line x1="424" y1="1864" x2="449" y2="1864" marker-end="url(#md)"/>
<line x1="477" y1="1882" x2="477" y2="1910" marker-end="url(#md)"/>
<path d="M499,1864 H551 V1912" marker-end="url(#md)"/>
</g>
<g stroke="#2d3640" stroke-width="3">
<rect x="455" y="1782" width="45" height="33" rx="4" fill="#c9676a"/>
<rect x="378" y="1849" width="46" height="31" rx="4" fill="#7d94a8"/>
<path d="M477,1844 L499,1864 L477,1884 L455,1864 Z" fill="#7d94a8"/>
<rect x="455" y="1916" width="45" height="33" rx="4" fill="#7d94a8"/>
<rect x="526" y="1918" width="48" height="32" rx="16" fill="#c9676a"/>
</g>
<!-- evolution arrow -->
<path d="M606,1826 H762 V1794 L843,1857 L762,1921 V1889 H606 Z" fill="url(#evo)" stroke="#2d3a48" stroke-width="2"/>
<text x="629" y="1870" font-size="30" font-weight="bold" fill="#ffffff" textLength="170" lengthAdjust="spacingAndGlyphs">Evolution</text>
<!-- network -->
<g fill="none" stroke="#1f2d3a" stroke-width="3.5">
<path d="M903,1802 Q940,1815 975,1785"/><path d="M975,1785 Q1010,1815 1045,1802"/>
<path d="M903,1802 Q918,1835 888,1863"/><path d="M1045,1802 Q1032,1835 1062,1863"/>
<path d="M888,1863 Q918,1890 905,1923"/><path d="M1062,1863 Q1032,1890 1045,1925"/>
<path d="M905,1923 Q940,1910 975,1942"/><path d="M975,1942 Q1010,1910 1045,1925"/>
<path d="M975,1785 V1942"/><path d="M888,1863 H1062"/>
<path d="M925,1863 Q945,1880 950,1920"/><path d="M1023,1863 Q1003,1880 1000,1920"/>
</g>
<g fill="none" stroke="#2d6fb0" stroke-width="2">
<path d="M905,1840 Q945,1818 975,1820"/><path d="M1000,1815 Q1020,1830 1023,1858"/><path d="M950,1915 Q1000,1880 1023,1872"/>
</g>
<g stroke="#1f2d3a" stroke-width="3">
<circle cx="903" cy="1802" r="10" fill="#3d80c8"/><circle cx="975" cy="1785" r="10" fill="#45c197"/><circle cx="1045" cy="1802" r="10" fill="#45c197"/>
<circle cx="975" cy="1820" r="9" fill="#3e8fb8"/><circle cx="888" cy="1863" r="10" fill="#3d80c8"/><circle cx="925" cy="1863" r="9" fill="#3d80c8"/>
<circle cx="1023" cy="1863" r="9" fill="#3aaa9f"/><circle cx="1062" cy="1863" r="10" fill="#45c197"/><circle cx="975" cy="1908" r="9" fill="#3d80c8"/>
<circle cx="905" cy="1923" r="10" fill="#3d80c8"/><circle cx="975" cy="1942" r="10" fill="#3d80c8"/><circle cx="1045" cy="1925" r="10" fill="#45c197"/>
<circle cx="975" cy="1863" r="25" fill="url(#split)"/>
</g>
<!-- cycle -->
<path d="M1162.6,1919.9 A69,69 0 0 1 1204.6,1798" fill="none" stroke="#1f2d3a" stroke-width="31"/>
<path d="M1162.6,1919.9 A69,69 0 0 1 1206,1798" fill="none" stroke="#3a7cc6" stroke-width="25"/>
<path d="M1203,1772 L1241,1798 L1203,1824 Z" fill="#3a7cc6" stroke="#1f2d3a" stroke-width="3" stroke-linejoin="round"/>
<path d="M1253.2,1815.7 A69,69 0 0 1 1207,1936" fill="none" stroke="#1f2d3a" stroke-width="31"/>
<path d="M1253.2,1815.7 A69,69 0 0 1 1205.5,1936" fill="none" stroke="#3cbf8f" stroke-width="25"/>
<path d="M1208,1910 L1171,1936 L1208,1962 Z" fill="#3cbf8f" stroke="#1f2d3a" stroke-width="3" stroke-linejoin="round"/>
<g font-size="29" fill="#1a1a1a">
<text x="145" y="2025" textLength="472" lengthAdjust="spacingAndGlyphs">Static Logic, Manual Updates,</text>
<text x="257" y="2063" textLength="253" lengthAdjust="spacingAndGlyphs">Historical Focus</text>
<text x="863" y="2025" textLength="413" lengthAdjust="spacingAndGlyphs">Dynamic, Self-Optimising,</text>
<text x="895" y="2063" textLength="349" lengthAdjust="spacingAndGlyphs">Predictive &amp; Real-time</text>
</g>

<!-- ===== BOX 4 ===== -->
<rect x="48" y="2133" width="1344" height="750" rx="36" fill="#f0f7f9" stroke="#4d616c" stroke-width="2.5"/>
<text x="400" y="2196" font-size="40" font-weight="bold" fill="#161616" textLength="647" lengthAdjust="spacingAndGlyphs">4. The Adoption Path (Stages)</text>
<!-- pills -->
<rect x="403" y="2686" width="580" height="114" rx="57" fill="url(#p1)"/>
<rect x="538" y="2540" width="605" height="116" rx="58" fill="url(#p2)"/>
<rect x="674" y="2385" width="561" height="127" rx="63" fill="url(#p3)"/>
<rect x="807" y="2233" width="561" height="124" rx="62" fill="url(#p4)"/>
<g fill="#f3f8fc"><circle cx="403" cy="2743" r="64"/><circle cx="538" cy="2596" r="64"/><circle cx="674" cy="2448" r="64"/><circle cx="807" cy="2295" r="64"/></g>
<line x1="403" y1="2743" x2="538" y2="2596" stroke="#9fc4e6" stroke-width="20"/>
<line x1="538" y1="2596" x2="674" y2="2448" stroke="#3f7fbd" stroke-width="20"/>
<line x1="674" y1="2448" x2="807" y2="2295" stroke="url(#c34)" stroke-width="20"/>
<circle cx="403" cy="2743" r="49" fill="#fbfdff" stroke="#a5c8e8" stroke-width="18"/>
<circle cx="538" cy="2596" r="49" fill="#fbfdff" stroke="#5a95cf" stroke-width="18"/>
<circle cx="674" cy="2448" r="49" fill="#fbfdff" stroke="#1d5a95" stroke-width="18"/>
<circle cx="807" cy="2295" r="49" fill="#fbfdff" stroke="#7b3fe0" stroke-width="18"/>
<text x="886" y="2273" font-size="32" font-weight="bold" fill="#ffffff" textLength="449" lengthAdjust="spacingAndGlyphs">4. Advanced &amp; Autonomous</text>
<text x="886" y="2308" font-size="29" fill="#f0e8ff" textLength="326" lengthAdjust="spacingAndGlyphs">GenAI agents, proactive</text>
<text x="886" y="2339" font-size="29" fill="#f0e8ff" textLength="137" lengthAdjust="spacingAndGlyphs">strategies</text>
<text x="761" y="2424" font-size="32" font-weight="bold" fill="#ffffff" textLength="403" lengthAdjust="spacingAndGlyphs">3. Integrated Intelligence</text>
<text x="761" y="2460" font-size="29" fill="#e8f0fa" textLength="385" lengthAdjust="spacingAndGlyphs">ML embedded in workflows,</text>
<text x="761" y="2497" font-size="29" fill="#e8f0fa" textLength="212" lengthAdjust="spacingAndGlyphs">aided decisions</text>
<text x="627" y="2590" font-size="32" font-weight="bold" fill="#16222e" textLength="420" lengthAdjust="spacingAndGlyphs">2. Basic Automation (RPA)</text>
<text x="627" y="2628" font-size="29" fill="#16222e" textLength="475" lengthAdjust="spacingAndGlyphs">Task streamlining, efficiency gains</text>
<text x="487" y="2735" font-size="32" font-weight="bold" fill="#16222e" textLength="440" lengthAdjust="spacingAndGlyphs">1. Digitisation &amp; Foundation</text>
<text x="487" y="2775" font-size="29" fill="#16222e" textLength="459" lengthAdjust="spacingAndGlyphs">Data collection, cleaning, storage</text>
<!-- stage 4 icon -->
<rect x="589" y="2250" width="117" height="80" rx="5" fill="#f4f6fb" stroke="#2b3440" stroke-width="3"/>
<path d="M589,2262 V2255 Q589,2250 594,2250 H701 Q706,2250 706,2255 V2262 Z" fill="#7a4fd8" stroke="#2b3440" stroke-width="2"/>
<g fill="#ffffff"><circle cx="597" cy="2256" r="2"/><circle cx="604" cy="2256" r="2"/><circle cx="611" cy="2256" r="2"/></g>
<g stroke="#9ab8d8" stroke-width="3"><line x1="597" y1="2272" x2="615" y2="2272"/><line x1="597" y1="2280" x2="615" y2="2280"/><line x1="597" y1="2288" x2="615" y2="2288"/><line x1="597" y1="2296" x2="615" y2="2296"/><line x1="597" y1="2304" x2="615" y2="2304"/><line x1="680" y1="2272" x2="698" y2="2272"/><line x1="680" y1="2280" x2="698" y2="2280"/><line x1="680" y1="2288" x2="698" y2="2288"/><line x1="680" y1="2296" x2="698" y2="2296"/><line x1="680" y1="2304" x2="698" y2="2304"/></g>
<path d="M622,2312 V2294 Q622,2288 630,2288 H666 Q674,2288 674,2294 V2312" fill="none" stroke="#6a7c90" stroke-width="2"/>
<circle cx="648" cy="2274" r="11" fill="#7a4fd8"/>
<path d="M648,2267 L653,2279 H643 Z" fill="none" stroke="#ffffff" stroke-width="1.5"/>
<path d="M624,2320 L633,2302 H663 L672,2320 Z" fill="#9ec3e8" stroke="#2b3440" stroke-width="3" stroke-linejoin="round"/>
<rect x="616" y="2338" width="12" height="14" rx="3" fill="#2b3440"/><rect x="668" y="2338" width="12" height="14" rx="3" fill="#2b3440"/>
<rect x="612" y="2317" width="72" height="27" rx="9" fill="#4a82c4" stroke="#2b3440" stroke-width="3"/>
<ellipse cx="626" cy="2329" rx="6" ry="4" fill="#2b3440"/><ellipse cx="670" cy="2329" rx="6" ry="4" fill="#2b3440"/>
<rect x="640" y="2334" width="16" height="4" rx="2" fill="#2b3440"/>
<!-- stage 3 icon -->
<rect x="444" y="2381" width="114" height="104" rx="5" fill="#f4f7fb" stroke="#2b3440" stroke-width="3"/>
<path d="M444,2399 V2386 Q444,2381 449,2381 H553 Q558,2381 558,2386 V2399 Z" fill="#5a8fcd" stroke="#2b3440" stroke-width="2.5"/>
<g fill="#f4f7fb" stroke="#2b3440" stroke-width="1.5"><circle cx="453" cy="2390" r="3"/><circle cx="462" cy="2390" r="3"/><circle cx="471" cy="2390" r="3"/></g>
<circle cx="480" cy="2433" r="17" fill="#4a86c8" stroke="#2b3440" stroke-width="2.5"/>
<path d="M480,2433 V2416 A17,17 0 0 1 497,2433 Z" fill="#4cc590" stroke="#2b3440" stroke-width="2"/>
<g stroke="#2b3440" stroke-width="3"><line x1="510" y1="2418" x2="546" y2="2418"/><line x1="510" y1="2428" x2="546" y2="2428"/><line x1="510" y1="2438" x2="540" y2="2438"/></g>
<g fill="#2b3440"><circle cx="503" cy="2418" r="2"/><circle cx="503" cy="2428" r="2"/><circle cx="503" cy="2438" r="2"/></g>
<g fill="#3f7fc6"><rect x="458" y="2466" width="5" height="10"/><rect x="466" y="2460" width="5" height="16"/><rect x="474" y="2463" width="5" height="13"/><rect x="482" y="2455" width="5" height="21"/></g>
<line x1="540" y1="2472" x2="564" y2="2496" stroke="#2b3440" stroke-width="11" stroke-linecap="round"/>
<line x1="540" y1="2472" x2="564" y2="2496" stroke="#3fb5a0" stroke-width="6" stroke-linecap="round"/>
<circle cx="526" cy="2458" r="19" fill="#e8f1fa" stroke="#2b3440" stroke-width="4"/>
<!-- stage 2 icons -->
<rect x="282" y="2620" width="50" height="13" rx="2" fill="#3f7fc6" stroke="#2b3440" stroke-width="2.5"/>
<path d="M293,2620 V2602 Q293,2588 307,2588 Q321,2588 321,2602 V2620 Z" fill="#4a86c8" stroke="#2b3440" stroke-width="2.5"/>
<circle cx="307" cy="2604" r="5" fill="#f4f7fb" stroke="#2b3440" stroke-width="2"/>
<line x1="304" y1="2592" x2="287" y2="2548" stroke="#2b3440" stroke-width="13" stroke-linecap="round"/>
<line x1="304" y1="2592" x2="287" y2="2548" stroke="#c9d4e0" stroke-width="8" stroke-linecap="round"/>
<line x1="287" y1="2546" x2="327" y2="2526" stroke="#2b3440" stroke-width="12" stroke-linecap="round"/>
<line x1="287" y1="2546" x2="327" y2="2526" stroke="#c9d4e0" stroke-width="7" stroke-linecap="round"/>
<circle cx="286" cy="2546" r="10" fill="#f4f7fb" stroke="#2b3440" stroke-width="2.5"/><circle cx="286" cy="2546" r="4" fill="#c9d4e0" stroke="#2b3440" stroke-width="1.5"/>
<circle cx="328" cy="2526" r="7" fill="#4a86c8" stroke="#2b3440" stroke-width="2.5"/>
<path d="M333,2523 L343,2514 L352,2520 M335,2531 L346,2538 L356,2531" fill="none" stroke="#2b3440" stroke-width="3" stroke-linejoin="round"/>
<rect x="369" y="2545" width="71" height="88" rx="5" fill="#4a86c8" stroke="#2b3440" stroke-width="3"/>
<rect x="377" y="2556" width="55" height="70" fill="#eef3f9" stroke="#2b3440" stroke-width="2"/>
<rect x="392" y="2538" width="25" height="14" rx="3" fill="#c9d4e0" stroke="#2b3440" stroke-width="2.5"/>
<g fill="none" stroke="#2b3440" stroke-width="2.5"><path d="M383,2572 L387,2577 L394,2567"/><path d="M383,2592 L387,2597 L394,2587"/><path d="M383,2612 L387,2617 L394,2607"/><line x1="400" y1="2573" x2="424" y2="2573"/><line x1="400" y1="2593" x2="424" y2="2593"/><line x1="400" y1="2613" x2="424" y2="2613"/></g>
<!-- stage 1 icons -->
<line x1="152" y1="2683" x2="206" y2="2740" stroke="#2b3440" stroke-width="10" stroke-linecap="round"/>
<line x1="152" y1="2683" x2="206" y2="2740" stroke="#dbe6f1" stroke-width="5" stroke-linecap="round"/>
<rect x="118" y="2743" width="90" height="23" rx="4" fill="#dbe6f1" stroke="#2b3440" stroke-width="3"/>
<line x1="127" y1="2755" x2="137" y2="2755" stroke="#2b3440" stroke-width="2.5"/>
<g fill="none" stroke="#6aa3d3" stroke-width="2.5" stroke-linecap="round"><path d="M136,2712 A14,14 0 0 0 132,2728"/><path d="M128,2704 A24,24 0 0 0 122,2730"/></g>
<path d="M203,2693 H262 V2708" fill="none" stroke="#2b3440" stroke-width="3" marker-end="url(#md)"/>
<path d="M230,2787 H165 V2775" fill="none" stroke="#2b3440" stroke-width="3" marker-end="url(#md)"/>
<path d="M231,2718 V2786 A35,9 0 0 0 301,2786 V2718 Z" fill="#4a86c8" stroke="#2b3440" stroke-width="3"/>
<path d="M231,2718 V2740 A35,9 0 0 0 301,2740 V2718 Z" fill="#bcd3ea" stroke="#2b3440" stroke-width="3"/>
<path d="M231,2763 A35,9 0 0 0 301,2763" fill="none" stroke="#2b3440" stroke-width="3"/>
<ellipse cx="266" cy="2718" rx="35" ry="9" fill="#dbe7f3" stroke="#2b3440" stroke-width="3"/>
<g fill="#2b3440"><circle cx="290" cy="2750" r="2.5"/><circle cx="290" cy="2773" r="2.5"/></g>
<text x="234" y="2856" font-size="29" fill="#1a1a1a" textLength="969" lengthAdjust="spacingAndGlyphs">Moving from automated tasks to intelligent, autonomous systems.</text>
<path d="M1327,2772 Q1330,2784 1342,2787 Q1330,2790 1327,2802 Q1324,2790 1312,2787 Q1324,2784 1327,2772 Z" fill="#ffffff" opacity="0.8"/>
</svg>
</body></html>
